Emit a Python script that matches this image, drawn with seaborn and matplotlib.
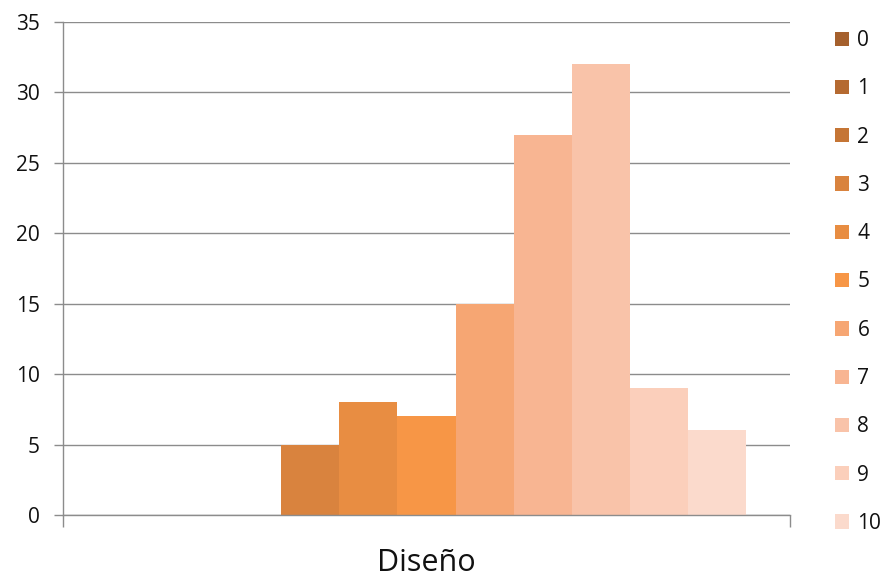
import matplotlib
matplotlib.use("Agg")
import matplotlib.pyplot as plt
import seaborn as sns
import pandas as pd

# Valores
notas = ["0", "1", "2", "3", "4", "5", "6", "7", "8", "9", "10"]
valores = [0, 0, 0, 5, 8, 7, 15, 27, 32, 9, 6]
colores = ["#A5602D", "#B56A31", "#C57535", "#D9833E", "#E88D42", "#F79646",
           "#F6A673", "#F8B592", "#F9C3A9", "#FBCFBB", "#FBDACC"]
categoria = "Diseño"

df = pd.DataFrame({"cat": [categoria] * len(notas), "nota": notas, "valor": valores})

sns.set_theme(style="white")
plt.rcParams["font.family"] = ["Open Sans", "DejaVu Sans"]

fig = plt.figure(figsize=(8.85, 5.8), dpi=100)
ax = fig.add_axes([63 / 885, 1 - 515 / 580, 727 / 885, 493 / 580])

sns.barplot(data=df, x="cat", y="valor", hue="nota", hue_order=notas,
            palette=dict(zip(notas, colores)), saturation=1, width=0.878,
            linewidth=0, errorbar=None, ax=ax)

ax.set_xlim(-0.5, 0.5)
ax.set_ylim(0, 35)
ax.set_yticks(range(0, 36, 5))
ax.yaxis.grid(True, color="#8C8C8C", linewidth=1)
ax.set_axisbelow(True)
ax.set_xlabel("")
ax.set_ylabel("")

for s in ["top", "right"]:
    ax.spines[s].set_visible(False)
for s in ["left", "bottom"]:
    ax.spines[s].set_color("#8C8C8C")
    ax.spines[s].set_linewidth(1)

ax.tick_params(axis="y", length=6.5, width=1, color="#8C8C8C", labelsize=15,
               pad=10, left=True, labelcolor="#111111")
ax.tick_params(axis="x", which="major", length=0, labelsize=22, pad=24,
               labelcolor="#111111")
ax.set_xticks([-0.5, 0.5], minor=True)
ax.tick_params(axis="x", which="minor", length=8.5, width=1, color="#8C8C8C",
               bottom=True)

handles, labels = ax.get_legend_handles_labels()
leg = ax.legend(handles, labels, loc="upper left", bbox_to_anchor=(835 / 885, 1 - 30 / 580),
                bbox_transform=fig.transFigure, frameon=False, fontsize=15,
                handlelength=0.68, handleheight=0.68, handletextpad=0.4,
                labelspacing=1.31, borderpad=0, borderaxespad=0)
for t in leg.get_texts():
    t.set_color("#111111")

fig.savefig("out.png", dpi=100)
